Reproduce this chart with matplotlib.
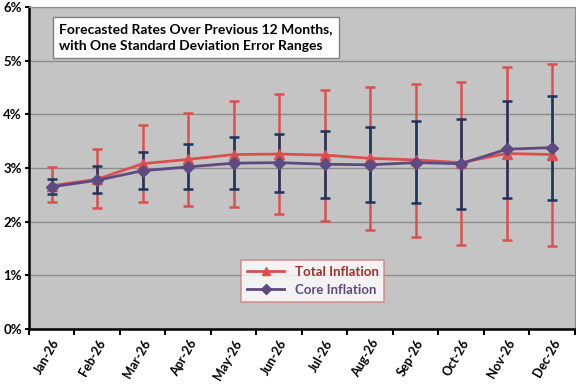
import numpy as np
import matplotlib.pyplot as plt
from matplotlib.ticker import FuncFormatter

plt.rcParams['font.family'] = ['Lato', 'DejaVu Sans']

months = ['Jan-26', 'Feb-26', 'Mar-26', 'Apr-26', 'May-26', 'Jun-26',
          'Jul-26', 'Aug-26', 'Sep-26', 'Oct-26', 'Nov-26', 'Dec-26']

total = [2.67, 2.79, 3.08, 3.16, 3.25, 3.26, 3.24, 3.18, 3.15, 3.10, 3.27, 3.25]
total_hi = [3.01, 3.36, 3.80, 4.03, 4.24, 4.37, 4.46, 4.51, 4.57, 4.61, 4.89, 4.94]
total_lo = [2.37, 2.26, 2.37, 2.30, 2.27, 2.15, 2.02, 1.85, 1.72, 1.57, 1.66, 1.54]

core = [2.65, 2.77, 2.95, 3.02, 3.09, 3.10, 3.07, 3.06, 3.10, 3.08, 3.35, 3.38]
core_hi = [2.80, 3.04, 3.30, 3.44, 3.58, 3.64, 3.69, 3.76, 3.87, 3.91, 4.25, 4.35]
core_lo = [2.51, 2.53, 2.61, 2.60, 2.61, 2.56, 2.44, 2.37, 2.34, 2.24, 2.45, 2.40]

red = '#D9504E'
purple = '#5E4A80'
navy = '#1B3560'

x = np.arange(len(months))
total = np.array(total)
core = np.array(core)

fig = plt.figure(figsize=(5.76, 3.84), dpi=100)
ax = fig.add_axes([0.050, 0.143, 0.948, 0.839])
ax.set_facecolor('#C4C4C4')

ax.errorbar(x, total, yerr=[total - np.array(total_lo), np.array(total_hi) - total],
            fmt='none', ecolor=red, elinewidth=1.8, capsize=3.5, capthick=1.8, zorder=2)
ax.errorbar(x, core, yerr=[core - np.array(core_lo), np.array(core_hi) - core],
            fmt='none', ecolor=navy, elinewidth=1.8, capsize=3.5, capthick=1.8, zorder=3)
ax.plot(x, total, color=red, lw=2, marker='^', ms=7, zorder=4, label='Total Inflation')
ax.plot(x, core, color=purple, lw=2, marker='D', ms=6, zorder=5, label='Core Inflation')

ax.set_xlim(-0.5, len(months) - 0.5)
ax.set_ylim(0, 6)
ax.set_yticks(range(0, 7))
ax.yaxis.set_major_formatter(FuncFormatter(lambda v, p: f'{v:.0f}%'))
ax.grid(axis='y', color='#8C8C8C', lw=1)
ax.set_axisbelow(True)

ax.set_xticks(np.arange(-0.5, len(months)), minor=False)
ax.set_xticklabels([])
ax.set_xticks(x, minor=True)
ax.set_xticklabels(months, minor=True, rotation=60, ha='right', rotation_mode='anchor',
                   fontsize=9, fontweight='bold')
ax.tick_params(axis='x', which='minor', length=0, pad=6)
ax.tick_params(axis='x', which='major', length=4, width=1.5, direction='out')
ax.tick_params(axis='y', length=3, width=1.5, labelsize=9.5, pad=2)
for lab in ax.get_yticklabels():
    lab.set_fontweight('bold')

for s in ['top', 'right']:
    ax.spines[s].set_color('#8C8C8C')
for s in ['left', 'bottom']:
    ax.spines[s].set_color('black')
    ax.spines[s].set_linewidth(1.8)

ax.text(0.055, 0.905, 'Forecasted Rates Over Previous 12 Months,\nwith One Standard Deviation Error Ranges',
        transform=ax.transAxes, fontsize=10, fontweight='bold', ha='left', va='center',
        linespacing=1.5,
        bbox=dict(boxstyle='square,pad=0.45', facecolor='white', edgecolor='#808080', lw=1))

leg = ax.legend(loc='center', bbox_to_anchor=(0.52, 0.149), frameon=True, fancybox=False,
                fontsize=9.5, handlelength=2.8, borderpad=0.45, labelspacing=0.45,
                markerscale=0.8)
leg.get_frame().set_edgecolor('#D08080')
leg.get_frame().set_linewidth(1.2)
for t, c in zip(leg.get_texts(), ['#A0302E', purple]):
    t.set_color(c)
    t.set_fontweight('bold')

fig.savefig('out.png', dpi=100)
